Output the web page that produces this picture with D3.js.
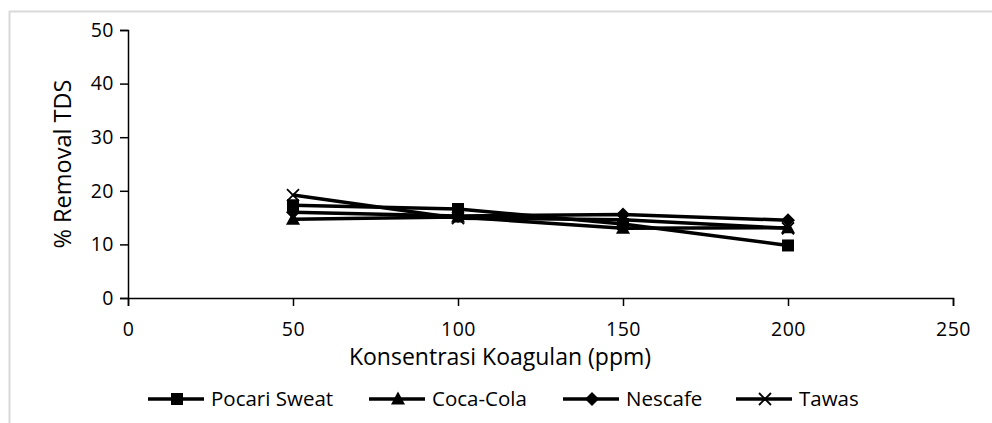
<!DOCTYPE html>
<html><head><meta charset="utf-8">
<script src="https://cdn.jsdelivr.net/npm/d3@7"></script>
<style>body{margin:0;background:#fff}svg{display:block}text{font-family:"Open Sans",Lato,sans-serif;fill:#000}</style>
</head><body><svg id="c" width="992" height="423"></svg>
<script>
const concentrations = [50, 100, 150, 200];
const pocariSweat = [17.3, 16.6, 13.8, 9.8];
const cocaCola = [14.7, 15.1, 13.0, 13.1];
const nescafe = [16.0, 15.3, 15.6, 14.5];
const tawas = [19.2, 14.9, 14.6, 13.0];
const seriesNames = ["Pocari Sweat", "Coca-Cola", "Nescafe", "Tawas"];
const markerTypes = ["square", "triangle", "diamond", "x"];
const xTicks = [0, 50, 100, 150, 200, 250];
const yTicks = [0, 10, 20, 30, 40, 50];
const xTitle = "Konsentrasi Koagulan (ppm)";
const yTitle = "% Removal TDS";

const series = [pocariSweat, cocaCola, nescafe, tawas].map((v, i) => ({name: seriesNames[i], marker: markerTypes[i], values: v}));

const svg = d3.select("#c");
// frame
svg.append("line").attr("x1", 9.5).attr("x2", 9.5).attr("y1", 11).attr("y2", 423).attr("stroke", "#d9d9d9").attr("stroke-width", 2);
svg.append("line").attr("x1", 9).attr("x2", 992).attr("y1", 11.5).attr("y2", 11.5).attr("stroke", "#d9d9d9").attr("stroke-width", 2);

const x = d3.scaleLinear().domain([0, 250]).range([128, 953]);
const y = d3.scaleLinear().domain([0, 50]).range([298, 30]);

const font = "'Open Sans', Lato, sans-serif";
const yAxis = svg.append("g").attr("transform", "translate(128,0)")
  .call(d3.axisLeft(y).tickValues(yTicks).tickSize(8).tickPadding(6).tickFormat(d3.format("d")));
const xAxis = svg.append("g").attr("transform", "translate(0,298)")
  .call(d3.axisBottom(x).tickValues(xTicks).tickSize(8).tickPadding(16).tickFormat(d3.format("d")));
[yAxis, xAxis].forEach(a => {
  a.select(".domain").attr("stroke", "#000").attr("stroke-width", 1.5);
  a.selectAll(".tick line").attr("stroke", "#000").attr("stroke-width", 1.5);
  a.selectAll("text").style("font-size", "19.5px").style("letter-spacing", "0.5px").style("font-family", font).attr("fill", "#000");
});

svg.append("text").attr("x", 500).attr("y", 365).attr("text-anchor", "middle").style("font-size", "23px").text(xTitle);
svg.append("text").attr("transform", "translate(71,164) rotate(-90)").attr("text-anchor", "middle").style("font-size", "23.5px").text(yTitle);

function drawMarker(g, type, cx, cy) {
  if (type === "square") g.append("rect").attr("x", cx - 6).attr("y", cy - 6).attr("width", 12).attr("height", 12).attr("fill", "#000");
  else if (type === "triangle") g.append("path").attr("d", `M${cx},${cy - 7.5}L${cx + 7},${cy + 5.5}L${cx - 7},${cy + 5.5}Z`).attr("fill", "#000");
  else if (type === "diamond") g.append("path").attr("d", `M${cx},${cy - 7}L${cx + 7},${cy}L${cx},${cy + 7}L${cx - 7},${cy}Z`).attr("fill", "#000");
  else if (type === "x") g.append("path").attr("d", `M${cx - 6},${cy - 6}L${cx + 6},${cy + 6}M${cx + 6},${cy - 6}L${cx - 6},${cy + 6}`).attr("stroke", "#000").attr("stroke-width", 1.8).attr("fill", "none");
}

const line = d3.line().x((d, i) => x(concentrations[i])).y(d => y(d));
const plot = svg.append("g");
series.forEach(s => {
  plot.append("path").datum(s.values).attr("d", line).attr("fill", "none").attr("stroke", "#000").attr("stroke-width", 3.5);
});
series.forEach(s => {
  const g = plot.append("g");
  s.values.forEach((v, i) => drawMarker(g, s.marker, x(concentrations[i]), y(v)));
});

// legend
const legX = [148, 369, 563, 736];
const legY = 399;
series.forEach((s, i) => {
  const g = svg.append("g");
  const x0 = legX[i];
  g.append("line").attr("x1", x0).attr("x2", x0 + 56).attr("y1", legY).attr("y2", legY).attr("stroke", "#000").attr("stroke-width", 3.5);
  drawMarker(g, s.marker, x0 + 29, legY);
  g.append("text").attr("x", x0 + 63).attr("y", legY + 7).style("font-size", "20.5px").text(s.name);
});
</script></body></html>
